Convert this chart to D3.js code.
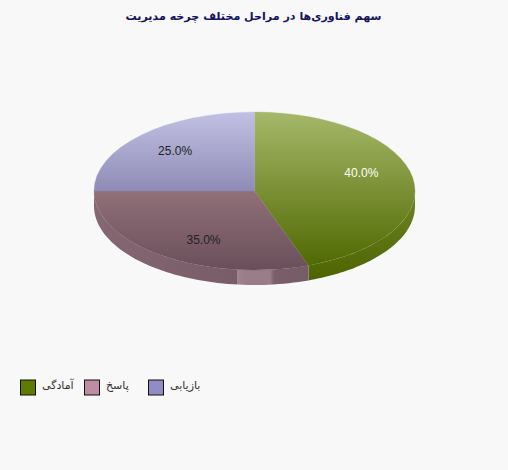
<!DOCTYPE html>
<html><head><meta charset="utf-8">
<script src="https://cdn.jsdelivr.net/npm/d3@7"></script>
<style>html,body{margin:0;padding:0;background:#f8f8f8}svg{display:block}</style>
</head><body><svg id="c" width="508" height="470"></svg>
<script>
const titleText = "سهم فناوری‌ها در مراحل مختلف چرخه مدیریت";
const categories = ["آمادگی", "پاسخ", "بازیابی"];
const values = [40, 35, 25];
const valueLabels = ["40.0%", "35.0%", "25.0%"];
const swatchColors = ["#5f7c00", "#bf8da3", "#918cc4"];
const topLight = ["#a6b86a", "#907079", "#c2c0e2"];
const topDark = ["#506a02", "#6a4f5a", "#8e8cb6"];
const labelColors = ["#ffffff", "#222222", "#222222"];

const W = 508, H = 470, cx = 254.5, cy = 191, rx = 160.5, ry = 79, depth = 15;
const svg = d3.select("#c");
svg.append("rect").attr("width", W).attr("height", H).attr("fill", "#f8f8f8");
const defs = svg.append("defs");

const slices = d3.pie().sort(null).value(d => d)(values);
// Slice edges are drawn at their true on-screen direction: convert to ellipse parameter.
const toParam = a => {
  let t = Math.atan2(Math.sin(a) / rx, Math.cos(a) / ry);
  if (t < 0) t += 2 * Math.PI;
  return t;
};
const P = slices.map((s, i) => ({
  i,
  a0: i === 0 ? 0 : toParam(s.startAngle),
  a1: i === slices.length - 1 ? 2 * Math.PI : toParam(s.endAngle),
  mid: (s.startAngle + s.endAngle) / 2
}));

topLight.forEach((c, i) => {
  const g = defs.append("linearGradient").attr("id", "top" + i).attr("x1", 0).attr("x2", 0).attr("y1", 0).attr("y2", 1);
  g.append("stop").attr("offset", 0).attr("stop-color", c);
  g.append("stop").attr("offset", 1).attr("stop-color", topDark[i]);
});
const gw = defs.append("linearGradient").attr("id", "side0").attr("gradientUnits", "userSpaceOnUse")
  .attr("x1", 0).attr("x2", 0).attr("y1", 191).attr("y2", 281);
gw.append("stop").attr("offset", 0).attr("stop-color", "#6f8626");
gw.append("stop").attr("offset", 1).attr("stop-color", "#4c6300");
const hl = defs.append("linearGradient").attr("id", "side1").attr("gradientUnits", "userSpaceOnUse")
  .attr("x1", 94).attr("x2", 309).attr("y1", 0).attr("y2", 0);
[[0, "#846772"], [.664, "#785c67"], [.664, "#a08691"], [.7, "#997d88"], [.82, "#997d88"], [.83, "#86697a"], [.84, "#7a5e69"], [1, "#755c66"]]
  .forEach(d => hl.append("stop").attr("offset", d[0]).attr("stop-color", d[1]));

// side walls
const wall = d3.line();
const ex = t => cx + rx * Math.sin(t), ey = t => cy - ry * Math.cos(t);
P.forEach(p => {
  const from = Math.max(p.a0, Math.PI / 2), to = Math.min(p.a1, 3 * Math.PI / 2);
  if (to <= from) return;
  const ts = d3.range(61).map(k => from + (to - from) * k / 60);
  const pts = ts.map(t => [ex(t), ey(t)]).concat(ts.slice().reverse().map(t => [ex(t), ey(t) + depth]));
  svg.append("path").attr("d", wall(pts) + "Z").attr("fill", `url(#side${p.i})`);
});

// top faces
const arc = d3.arc().innerRadius(0).outerRadius(rx);
const faces = svg.append("g").attr("transform", `translate(${cx},${cy}) scale(1,${ry / rx})`);
P.forEach(p => {
  faces.append("path").attr("d", arc({startAngle: p.a0, endAngle: p.a1}))
    .attr("fill", `url(#top${p.i})`).attr("stroke", `url(#top${p.i})`).attr("stroke-width", .4);
});

// value labels
P.forEach(p => {
  svg.append("text")
    .attr("x", cx + 0.7 * rx * Math.sin(p.mid))
    .attr("y", cy - 0.7 * ry * Math.cos(p.mid) + 3.5)
    .attr("text-anchor", "middle")
    .attr("font-family", "'Liberation Sans',Arial,sans-serif").attr("font-size", 12)
    .attr("fill", labelColors[p.i]).text(valueLabels[p.i]);
});

svg.append("text").attr("x", 253.5).attr("y", 20).attr("text-anchor", "middle")
  .attr("direction", "rtl")
  .attr("font-family", "'DejaVu Sans',sans-serif").attr("font-weight", "bold").attr("font-size", 11.1)
  .attr("fill", "#14145f").text(titleText);

// legend
const legendX = d3.scalePoint().domain(categories).range([20.5, 148.5]);
categories.forEach((c, i) => {
  const x = legendX(c);
  svg.append("rect").attr("x", x).attr("y", 380).attr("width", 15).attr("height", 15)
    .attr("fill", swatchColors[i]).attr("stroke", "#111");
  svg.append("text").attr("x", x + 21.5).attr("y", 389).attr("direction", "rtl").attr("text-anchor", "end")
    .attr("font-family", "'DejaVu Sans',sans-serif").attr("font-size", 11)
    .attr("fill", "#333").text(c);
});
</script></body></html>
